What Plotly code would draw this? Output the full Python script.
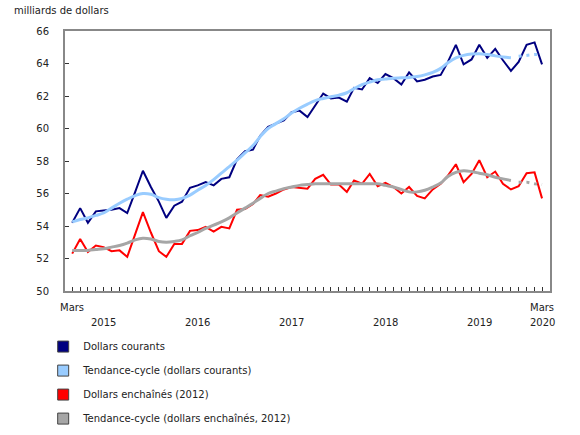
import pandas as pd
import plotly.graph_objects as go

months = list(pd.date_range("2015-03-01", "2020-03-01", freq="MS"))

dollars_courants = [
    54.2, 55.1, 54.2, 54.9, 54.95, 55.0, 55.1, 54.8, 56.1, 57.4,
    56.4, 55.5, 54.5, 55.25, 55.5, 56.35, 56.5, 56.7, 56.5, 56.9,
    57.0, 58.1, 58.6, 58.7, 59.55, 60.1, 60.3, 60.5, 61.0, 61.1,
    60.7, 61.45, 62.15, 61.85, 61.9, 61.65, 62.5, 62.4, 63.1, 62.8,
    63.35, 63.1, 62.7, 63.45, 62.9, 63.0, 63.2, 63.3, 64.1, 65.15,
    63.95, 64.25, 65.15, 64.35, 64.9, 64.2, 63.55, 64.1, 65.15, 65.3,
    63.95,
]
tendance_courants = [
    54.25, 54.4, 54.5, 54.65, 54.8, 55.1, 55.4, 55.65, 55.87, 56.0,
    55.95, 55.75, 55.65, 55.62, 55.7, 55.9, 56.2, 56.5, 56.85, 57.25,
    57.65, 58.05, 58.5, 58.95, 59.5, 60.0, 60.3, 60.6, 60.95, 61.25,
    61.5, 61.72, 61.85, 61.95, 62.05, 62.2, 62.45, 62.7, 62.85, 63.0,
    63.05, 63.1, 63.12, 63.14, 63.2, 63.3, 63.45, 63.7, 64.05, 64.35,
    64.5, 64.58, 64.6, 64.55, 64.47, 64.4, 64.35,
]
tendance_courants_prov = [64.45, 64.5, 64.55, 64.55]

dollars_enchaines = [
    52.3, 53.2, 52.4, 52.8, 52.7, 52.45, 52.5, 52.1, 53.5, 54.85,
    53.6, 52.45, 52.1, 52.9, 52.9, 53.7, 53.75, 53.95, 53.65, 53.95,
    53.85, 55.0, 55.05, 55.35, 55.9, 55.8, 56.0, 56.25, 56.4, 56.35,
    56.3, 56.9, 57.15, 56.55, 56.55, 56.1, 56.8, 56.6, 57.2, 56.45,
    56.65, 56.4, 56.0, 56.4, 55.85, 55.7, 56.25, 56.6, 57.1, 57.8,
    56.7, 57.2, 58.05, 57.0, 57.35, 56.6, 56.25, 56.45, 57.25, 57.3,
    55.7,
]
tendance_enchaines = [
    52.5, 52.5, 52.5, 52.55, 52.6, 52.7, 52.8, 52.95, 53.15, 53.25,
    53.2, 53.05, 53.0, 53.05, 53.15, 53.4, 53.6, 53.85, 54.05, 54.25,
    54.5, 54.8, 55.1, 55.4, 55.7, 56.0, 56.15, 56.3, 56.4, 56.5,
    56.55, 56.6, 56.6, 56.6, 56.6, 56.6, 56.6, 56.6, 56.6, 56.6,
    56.5, 56.4, 56.25, 56.1, 56.1, 56.2, 56.4, 56.65, 57.05, 57.3,
    57.4, 57.35, 57.25, 57.15, 57.0, 56.9, 56.8,
]
tendance_enchaines_prov = [56.7, 56.7, 56.6, 56.55]

series_names = [
    "Dollars courants",
    "Tendance-cycle (dollars courants)",
    "Dollars enchaînés (2012)",
    "Tendance-cycle (dollars enchaînés, 2012)",
]
series_colors = ["#000080", "#99CCFF", "#FF0000", "#A6A6A6"]

end_labels = ["Mars", "Mars"]
year_labels = ["2015", "2016", "2017", "2018", "2019", "2020"]
year_label_dates = ["2015-07-01", "2016-07-01", "2017-07-01", "2018-07-01",
                    "2019-07-01", "2020-03-01"]
major_tick_dates = ["2016-01-01", "2017-01-01", "2018-01-01", "2019-01-01",
                    "2020-01-01"]
y_title = "milliards de dollars"

FONT = "DejaVu Sans"
TXT = "#222222"
AX = "#888888"

n_trend = len(tendance_courants)
prov_x = months[n_trend:]

fig = go.Figure()

fig.add_trace(go.Scatter(x=months, y=dollars_courants, mode="lines",
                         line=dict(color=series_colors[0], width=2),
                         showlegend=False, hoverinfo="skip"))
fig.add_trace(go.Scatter(x=months[:n_trend], y=tendance_courants, mode="lines",
                         line=dict(color=series_colors[1], width=3, shape="spline"),
                         showlegend=False, hoverinfo="skip"))
fig.add_trace(go.Scatter(x=prov_x, y=tendance_courants_prov, mode="lines",
                         line=dict(color=series_colors[1], width=3, dash="3px,4.8px"),
                         showlegend=False, hoverinfo="skip"))
fig.add_trace(go.Scatter(x=months, y=dollars_enchaines, mode="lines",
                         line=dict(color=series_colors[2], width=2),
                         showlegend=False, hoverinfo="skip"))
fig.add_trace(go.Scatter(x=months[:n_trend], y=tendance_enchaines, mode="lines",
                         line=dict(color=series_colors[3], width=3, shape="spline"),
                         showlegend=False, hoverinfo="skip"))
fig.add_trace(go.Scatter(x=prov_x, y=tendance_enchaines_prov, mode="lines",
                         line=dict(color=series_colors[3], width=3, dash="3px,4.8px"),
                         showlegend=False, hoverinfo="skip"))

for i, (name, col) in enumerate(zip(series_names, series_colors)):
    fig.add_trace(go.Scatter(x=[None], y=[None], mode="markers", name=name,
                             legendgroup=f"g{i}",
                             marker=dict(symbol="square", size=11, color=col,
                                         line=dict(color="#444444", width=1))))

annotations = []
for d, lab in zip([months[0], months[-1]], end_labels):
    annotations.append(dict(x=d, y=0, xref="x", yref="paper", text=lab,
                            showarrow=False, yanchor="middle", yshift=-16,
                            font=dict(family=FONT, size=10, color=TXT)))
for d, lab in zip(year_label_dates, year_labels):
    annotations.append(dict(x=d, y=0, xref="x", yref="paper", text=lab,
                            showarrow=False, yanchor="middle", yshift=-31,
                            font=dict(family=FONT, size=10, color=TXT)))
annotations.append(dict(x=0, y=1, xref="paper", yref="paper", text=y_title,
                        showarrow=False, xanchor="left", yanchor="middle",
                        xshift=-53, yshift=21,
                        font=dict(family=FONT, size=10, color=TXT)))

fig.update_layout(
    width=580, height=435,
    margin=dict(l=65, r=30, t=31, b=144, autoexpand=False),
    paper_bgcolor="white", plot_bgcolor="white",
    font=dict(family=FONT, size=10, color=TXT),
    annotations=annotations,
    legend=dict(orientation="v", x=-0.045, xanchor="left", y=-0.158, yanchor="top",
                traceorder="grouped", tracegroupgap=5,
                font=dict(family=FONT, size=10, color=TXT),
                bgcolor="rgba(0,0,0,0)"),
)
fig.update_xaxes(
    range=["2015-02-01", "2020-04-01"],
    tickmode="array", tickvals=major_tick_dates, ticktext=["" for _ in major_tick_dates],
    ticks="inside", ticklen=14, tickwidth=1, tickcolor="#333333",
    showticklabels=False,
    minor=dict(ticks="inside", ticklen=4, tickwidth=1, tickcolor="#333333",
               dtick="M1", tick0="2015-03-01", showgrid=False),
    showgrid=False, zeroline=False,
    showline=True, linecolor=AX, linewidth=2, mirror=True,
)
fig.update_yaxes(
    range=[50, 66], dtick=2, tick0=50,
    ticks="inside", ticklen=4, tickwidth=1, tickcolor="#333333",
    ticklabelstandoff=12,
    showgrid=False, zeroline=False,
    showline=True, linecolor=AX, linewidth=2, mirror=True,
    tickfont=dict(family=FONT, size=10, color=TXT),
)

fig.write_html("out.html")
